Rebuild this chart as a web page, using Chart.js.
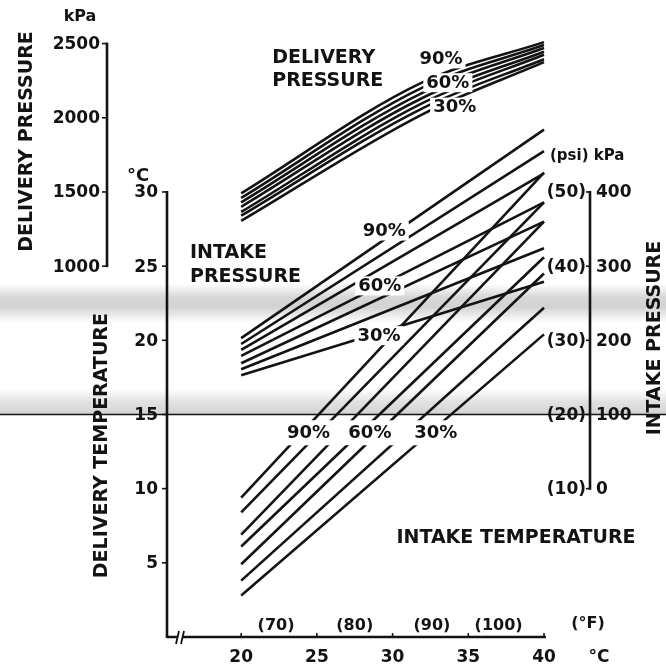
<!DOCTYPE html>
<html>
<head>
<meta charset="utf-8">
<script src="https://cdn.jsdelivr.net/npm/chart.js@4.4.1/dist/chart.umd.min.js"></script>
<style>
  html, body { margin: 0; padding: 0; background: #fff; }
  #wrap { width: 666px; height: 668px; }
</style>
</head>
<body>
<div id="wrap"><canvas id="chart" width="666" height="668"></canvas></div>
<script>
// Relative humidity of the intake air, one curve per level in each family
const humidityLevels = ['90%', '80%', '70%', '60%', '50%', '40%', '30%'];

// Intake temperature (°C) at which the curves are read
const deliveryPressureAtC = [20, 32, 40];
const intakePressureAtC = [20, 40];
const deliveryTempAtC = [20, 40];

// Delivery pressure, kPa (90% ... 30%)
const deliveryPressureKpa = [
  [1490, 2240, 2510],
  [1460, 2205, 2490],
  [1430, 2170, 2470],
  [1400, 2135, 2445],
  [1365, 2100, 2425],
  [1340, 2065, 2395],
  [1305, 2025, 2375]
];

// Intake pressure, kPa (90% ... 30%)
const intakePressureKpa = [
  [203, 484],
  [195, 455],
  [187, 425],
  [179, 386],
  [169, 360],
  [161, 324],
  [153, 279]
];

// Delivery temperature, °C (90% ... 30%)
const deliveryTempC = [
  [9.4, 31.3],
  [8.4, 29.3],
  [6.9, 28.0],
  [6.1, 25.6],
  [4.9, 24.5],
  [3.8, 22.2],
  [2.8, 20.4]
];

// Axis tick labels
const intakeTempTicks = [20, 25, 30, 35, 40];
const fahrenheitLabels = ['(70)', '(80)', '(90)', '(100)'];
const deliveryTempTicks = [5, 10, 15, 20, 25, 30];
const deliveryPressureTicks = [1000, 1500, 2000, 2500];
const intakeKpaTicks = [0, 100, 200, 300, 400];
const intakePsiLabels = ['(10)', '(20)', '(30)', '(40)', '(50)'];
const curveLabels = ['90%', '60%', '30%'];

const INK = '#131313';
const FONT = '"DejaVu Sans", "Liberation Sans", sans-serif';

function pts(xs, ys) { return xs.map((x, i) => ({ x, y: ys[i] })); }

const datasets = [];
humidityLevels.forEach((h, i) => {
  datasets.push({
    label: 'Delivery pressure ' + h,
    data: pts(deliveryPressureAtC, deliveryPressureKpa[i]),
    yAxisID: 'yDel',
    cubicInterpolationMode: 'monotone'
  });
  datasets.push({
    label: 'Intake pressure ' + h,
    data: pts(intakePressureAtC, intakePressureKpa[i]),
    yAxisID: 'yInt'
  });
  datasets.push({
    label: 'Delivery temperature ' + h,
    data: pts(deliveryTempAtC, deliveryTempC[i]),
    yAxisID: 'y'
  });
});
datasets.forEach(d => Object.assign(d, {
  borderColor: INK, borderWidth: 2.6, pointRadius: 0, fill: false, clip: 6
}));

function setFont(ctx, size) { ctx.font = 'bold ' + size + 'px ' + FONT; }
function write(ctx, text, px, py, size, align) {
  setFont(ctx, size);
  ctx.fillStyle = INK;
  ctx.textAlign = align || 'center';
  ctx.textBaseline = 'middle';
  ctx.fillText(text, px, py + 1);
}
function writeUp(ctx, text, px, py, size) {
  ctx.save();
  ctx.translate(px, py);
  ctx.rotate(-Math.PI / 2);
  write(ctx, text, 0, 0, size, 'center');
  ctx.restore();
}
function stroke(ctx, pairs, w) {
  ctx.beginPath();
  ctx.moveTo(pairs[0][0], pairs[0][1]);
  for (let i = 1; i < pairs.length; i++) ctx.lineTo(pairs[i][0], pairs[i][1]);
  ctx.lineWidth = w; ctx.strokeStyle = INK; ctx.lineCap = 'butt'; ctx.stroke();
}
function shade(ctx, top, bottom, width, stops) {
  const g = ctx.createLinearGradient(0, top, 0, bottom);
  stops.forEach(s => g.addColorStop(s[0], 'rgba(70,70,70,' + s[1] + ')'));
  ctx.fillStyle = g;
  ctx.fillRect(0, top, width, bottom - top);
}

// Curve labels sit in small gaps cut through the lines
const labelSpots = {
  deliveryPressure: [[33.2, 39.0], [33.65, 37.4], [34.1, 35.75]],
  intakePressure: [[29.45, 27.4], [29.15, 23.7], [29.1, 20.35]],
  deliveryTemp: [[24.45, 13.8], [28.5, 13.8], [32.85, 13.8]]
};

const nomogram = {
  id: 'nomogram',
  beforeDatasetsDraw(chart) {
    const { ctx, scales: { y } } = chart;
    const W = chart.width;
    ctx.save();
    // greyish print shading across the sheet
    shade(ctx, y.getPixelForValue(23.8), y.getPixelForValue(21.2), W,
      [[0, 0], [0.35, 0.22], [0.6, 0.24], [1, 0]]);
    shade(ctx, y.getPixelForValue(16.7), y.getPixelForValue(15), W,
      [[0, 0], [0.5, 0.16], [1, 0.24]]);
    const yl = Math.round(y.getPixelForValue(15)) + 0.5;
    stroke(ctx, [[0, yl], [W, yl]], 1.4);
    ctx.restore();
  },
  afterDatasetsDraw(chart) {
    const { ctx, chartArea: a, scales: { x, y, yDel, yInt } } = chart;
    ctx.save();

    // ---- curve labels with white backing ----
    const px = v => x.getPixelForValue(v);
    const py = v => y.getPixelForValue(v);
    setFont(ctx, 18);
    ['deliveryPressure', 'intakePressure'].forEach(k => {
      labelSpots[k].forEach((s, i) => {
        const w = ctx.measureText(curveLabels[i]).width;
        ctx.fillStyle = '#fff';
        ctx.fillRect(px(s[0]) - w / 2 - 3, py(s[1]) - 9, w + 6, 19);
        write(ctx, curveLabels[i], px(s[0]), py(s[1]), 18);
      });
    });
    {
      const s = labelSpots.deliveryTemp;
      setFont(ctx, 18);
      const w0 = ctx.measureText(curveLabels[0]).width;
      const w2 = ctx.measureText(curveLabels[2]).width;
      const left = px(s[0][0]) - w0 / 2 - 4;
      const right = px(s[2][0]) + w2 / 2 + 4;
      ctx.fillStyle = '#fff';
      ctx.fillRect(left, py(s[0][1]) - 12, right - left, 25);
      s.forEach((p, i) => write(ctx, curveLabels[i], px(p[0]), py(p[1]), 18));
    }

    // ---- intake temperature axis (bottom) ----
    const base = a.bottom;
    const xEnd = x.getPixelForValue(40) + 2;
    stroke(ctx, [[a.left, base], [xEnd, base]], 2.6);
    intakeTempTicks.forEach(v => {
      const tx = x.getPixelForValue(v);
      stroke(ctx, [[tx, base], [tx, base - 4]], 1.6);
      write(ctx, String(v), tx, base + 20, 17);
    });
    // axis break mark
    const bx = a.left + 13;
    ctx.fillStyle = '#fff';
    ctx.fillRect(bx - 2, base - 3, 5, 6);
    stroke(ctx, [[bx - 4, base + 7], [bx - 1, base - 6]], 1.8);
    stroke(ctx, [[bx + 1, base + 7], [bx + 4, base - 6]], 1.8);
    const fAt = [22.3, 27.5, 32.6, 37.0];
    fahrenheitLabels.forEach((t, i) => write(ctx, t, x.getPixelForValue(fAt[i]), py(0.85), 16));
    write(ctx, '(°F)', x.getPixelForValue(40) + 44, py(0.95), 16);
    write(ctx, '°C', x.getPixelForValue(40) + 55, base + 20, 17);
    write(ctx, 'INTAKE TEMPERATURE', x.getPixelForValue(38.15), py(6.75), 19);

    // ---- delivery temperature axis (left, on the chart edge) ----
    const tX = a.left;
    stroke(ctx, [[tX, py(30) - 1], [tX, base + 1]], 2.6);
    deliveryTempTicks.forEach(v => {
      const ty = py(v);
      stroke(ctx, [[tX - 5, ty], [tX, ty]], 1.6);
      write(ctx, String(v), tX - 9, ty, 17, 'right');
    });
    write(ctx, '°C', tX - 29, py(30) - 17, 18);
    writeUp(ctx, 'DELIVERY TEMPERATURE', tX - 66, py(12.9), 19);

    // ---- delivery pressure axis (far left) ----
    const dX = a.left - 60;
    stroke(ctx, [[dX, yDel.getPixelForValue(2500) - 1], [dX, yDel.getPixelForValue(1000) + 1]], 2.6);
    deliveryPressureTicks.forEach(v => {
      const ty = yDel.getPixelForValue(v);
      stroke(ctx, [[dX - 5, ty], [dX, ty]], 1.6);
      write(ctx, String(v), dX - 7, ty, 17, 'right');
    });
    write(ctx, 'kPa', dX - 27, yDel.getPixelForValue(2500) - 28, 16);
    writeUp(ctx, 'DELIVERY PRESSURE', dX - 81, yDel.getPixelForValue(1840), 19);

    // ---- intake pressure axis (right) ----
    const iX = a.right + 46;
    stroke(ctx, [[iX, yInt.getPixelForValue(400) - 1], [iX, yInt.getPixelForValue(0) + 1]], 2.6);
    intakeKpaTicks.forEach((v, i) => {
      const ty = yInt.getPixelForValue(v);
      stroke(ctx, [[iX - 4, ty], [iX, ty]], 1.6);
      write(ctx, String(v), iX + 6, ty, 17, 'left');
      write(ctx, intakePsiLabels[i], iX - 4, ty, 17, 'right');
    });
    write(ctx, '(psi) kPa', iX - 40, yInt.getPixelForValue(400) - 37, 15, 'left');
    writeUp(ctx, 'INTAKE PRESSURE', iX + 64, yInt.getPixelForValue(203), 19);

    // ---- family titles ----
    write(ctx, 'DELIVERY', x.getPixelForValue(22.05), py(39.1), 19, 'left');
    write(ctx, 'PRESSURE', x.getPixelForValue(22.05), py(37.55), 19, 'left');
    write(ctx, 'INTAKE', x.getPixelForValue(16.62), py(25.95), 19, 'left');
    write(ctx, 'PRESSURE', x.getPixelForValue(16.62), py(24.33), 19, 'left');

    ctx.restore();
  }
};

new Chart(document.getElementById('chart'), {
  type: 'line',
  data: { datasets },
  options: {
    responsive: false,
    animation: false,
    events: [],
    layout: { padding: { left: 167, right: 122, top: 8, bottom: 31 } },
    plugins: { legend: { display: false }, tooltip: { enabled: false } },
    scales: {
      x: { type: 'linear', min: 15.1, max: 40, display: false },
      y: { type: 'linear', min: 0, max: 42.4, display: false },
      yDel: { type: 'linear', axis: 'y', min: -1500, max: 2740, display: false },
      yInt: { type: 'linear', axis: 'y', min: -200, max: 648, display: false }
    }
  },
  plugins: [nomogram]
});
</script>
</body>
</html>
